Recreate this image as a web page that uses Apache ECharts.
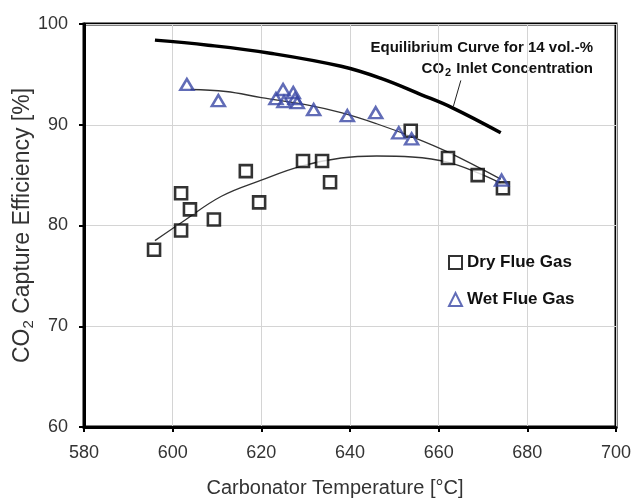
<!DOCTYPE html>
<html><head><meta charset="utf-8">
<script src="https://cdn.jsdelivr.net/npm/echarts@6/dist/echarts.min.js"></script>
<style>html,body{margin:0;padding:0;background:#fff}#c{width:636px;height:498px}</style>
</head><body><div id="c"></div>
<script>
// Data
const xTicks = [580, 600, 620, 640, 660, 680, 700];
const yTicks = [60, 70, 80, 90, 100];
const dryFlueGas = [
  [595.8, 77.6], [601.9, 83.2], [601.9, 79.5], [603.9, 81.6], [609.3, 80.6],
  [616.5, 85.4], [619.5, 82.3], [629.4, 86.4], [633.7, 86.4], [635.5, 84.3],
  [653.7, 89.4], [662.1, 86.7], [668.8, 85.0], [674.5, 83.7]
];
const wetFlueGas = [
  [603.2, 94.0], [610.3, 92.4], [623.3, 92.6], [624.9, 93.5], [625.1, 92.3],
  [627.2, 93.2], [627.6, 92.6], [628.1, 92.2], [631.8, 91.5], [639.4, 90.9],
  [645.8, 91.2], [651.0, 89.2], [653.9, 88.6], [674.2, 84.5]
];
const equilibriumCurve = [
  [596, 98.4], [608, 97.9], [622, 97.1], [638, 95.8], [647, 94.6],
  [656, 93.0], [663, 91.7], [674, 89.2]
];
const wetTrend = [
  [604, 93.5], [612, 93.3], [620, 92.7], [630, 92.0], [638, 91.2],
  [646, 90.1], [654, 88.8], [662, 87.3], [674, 84.6]
];
const dryTrend = [
  [596, 78.5], [602, 80.3], [611, 82.9], [620, 84.5], [629, 85.9],
  [638, 86.7], [646, 86.9], [654, 86.8], [662, 86.3], [669, 85.2], [674, 84.2]
];
const leader = [[665.0, 94.4], [663.3, 91.8]];
const annotationLine1 = 'Equilibrium Curve for 14 vol.-%';
const annotationLine2 = '{n|CO}{s|2}{n| Inlet Concentration}';

const FONT = 'Liberation Sans';
const chart = echarts.init(document.getElementById('c'), null, {renderer: 'canvas'});
chart.setOption({
  backgroundColor: '#fff',
  animation: false,
  textStyle: {fontFamily: FONT},
  grid: {left: 84, right: 20, top: 24, bottom: 71, containLabel: false, outerBoundsMode: 'none',
         show: true, borderColor: '#000', borderWidth: 3, backgroundColor: 'transparent'},
  xAxis: {
    type: 'value', min: xTicks[0], max: xTicks[xTicks.length - 1], interval: 20,
    name: 'Carbonator Temperature [°C]', nameLocation: 'middle', nameGap: 51, nameMoveOverlap: false,
    nameTextStyle: {fontSize: 20, color: '#333', fontFamily: FONT, padding: [0, 30, 0, 0]},
    axisLine: {show: true, lineStyle: {color: '#000', width: 3}},
    axisTick: {show: true, inside: false, length: 5, lineStyle: {color: '#000', width: 2}},
    axisLabel: {fontSize: 18, color: '#333', margin: 17, fontFamily: FONT},
    splitLine: {show: true, lineStyle: {color: '#d4d4d4', width: 1}}
  },
  yAxis: {
    type: 'value', min: yTicks[0], max: yTicks[yTicks.length - 1], interval: 10,
    name: '{a|CO}{b|2}{a| Capture Efficiency [%]}', nameLocation: 'middle', nameGap: 47, nameRotate: 90,
    nameMoveOverlap: false,
    nameTextStyle: {color: '#333', fontFamily: FONT,
      rich: {a: {fontSize: 23, color: '#333', fontFamily: FONT, lineHeight: 28},
             b: {fontSize: 15, color: '#333', fontFamily: FONT, lineHeight: 28, padding: [11, 0, 0, 0]}}},
    axisLine: {show: true, lineStyle: {color: '#000', width: 3}},
    axisTick: {show: true, inside: false, length: 5, lineStyle: {color: '#000', width: 2}},
    axisLabel: {fontSize: 18, color: '#333', margin: 16, fontFamily: FONT},
    splitLine: {show: true, lineStyle: {color: '#d4d4d4', width: 1}}
  },
  legend: {
    orient: 'vertical', left: 443, top: 249, itemGap: 20, itemWidth: 13, itemHeight: 13,
    data: ['Dry Flue Gas', 'Wet Flue Gas'],
    textStyle: {fontSize: 17, fontWeight: 'bold', color: '#111', fontFamily: FONT}
  },
  graphic: [
    {type: 'text', right: 43, top: 40, style: {
      text: annotationLine1, align: 'right', font: 'bold 15px "Liberation Sans"', fill: '#111'}},
    {type: 'text', right: 43, top: 59, style: {
      text: annotationLine2, align: 'right', fill: '#111',
      rich: {n: {font: 'bold 15px "Liberation Sans"', fill: '#111', lineHeight: 19},
             s: {font: 'bold 11px "Liberation Sans"', fill: '#111', lineHeight: 19, padding: [8, 1, 0, 1]}}
    }}
  ],
  series: [
    {name: 'Equilibrium', type: 'line', data: equilibriumCurve, smooth: 0.4, showSymbol: false,
     lineStyle: {color: '#000', width: 3.5}, z: 3,
     markLine: {silent: true, symbol: 'none', label: {show: false},
       lineStyle: {color: '#222', width: 1, type: 'solid'},
       data: [[{coord: leader[0]}, {coord: leader[1]}]]}},
    {name: 'wetTrend', type: 'line', data: wetTrend, smooth: 0.4, showSymbol: false,
     lineStyle: {color: '#333', width: 1.3}, z: 2},
    {name: 'dryTrend', type: 'line', data: dryTrend, smooth: 0.4, showSymbol: false,
     lineStyle: {color: '#333', width: 1.3}, z: 2},
    {name: 'Dry Flue Gas', type: 'scatter', data: dryFlueGas, symbol: 'rect', symbolSize: 12,
     itemStyle: {color: '#fff', borderColor: '#000', borderWidth: 2.6}, z: 5},
    {name: 'Wet Flue Gas', type: 'scatter', data: wetFlueGas, symbol: 'triangle', symbolSize: [13, 11],
     itemStyle: {color: 'rgba(255,255,255,0)', borderColor: '#3a47a5', borderWidth: 2.5}, z: 6}
  ]
});
</script></body></html>
